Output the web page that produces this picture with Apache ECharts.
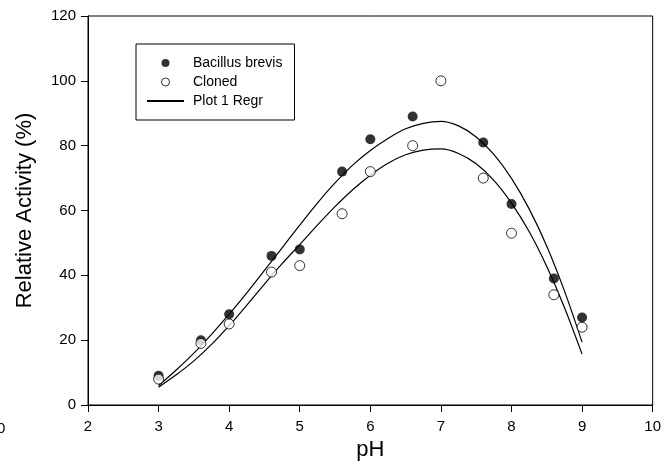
<!DOCTYPE html>
<html>
<head>
<meta charset="utf-8">
<script src="https://cdn.jsdelivr.net/npm/echarts@6/dist/echarts.min.js"></script>
<style>
  html, body { margin: 0; padding: 0; background: #fff; }
  #chart { width: 664px; height: 472px; }
</style>
</head>
<body>
<div id="chart"></div>
<script>
// measured points
const phPoints = [3, 3.6, 4, 4.6, 5, 5.6, 6, 6.6, 7.6, 8, 8.6, 9];
const brevisValues = [9, 20, 28, 46, 48, 72, 82, 89, 81, 62, 39, 27];
const clonedPh = [3, 3.6, 4, 4.6, 5, 5.6, 6, 6.6, 7, 7.6, 8, 8.6, 9];
const clonedValues = [8, 19, 25, 41, 43, 59, 72, 80, 100, 70, 53, 34, 24];

// regression curves, every 0.25 pH
const phFit = [3, 3.25, 3.5, 3.75, 4, 4.25, 4.5, 4.75, 5, 5.25, 5.5, 5.75, 6,
               6.25, 6.5, 6.75, 7, 7.25, 7.5, 7.75, 8, 8.25, 8.5, 8.75, 9];
const brevisFit = [6, 10.8, 16, 21.8, 28, 34.6, 41.5, 48.5, 55.5, 62.3, 68.5, 74, 78.5,
                   82.2, 85.2, 86.9, 87.5, 86.1, 82.7, 77.3, 69.9, 60.5, 49, 35.2, 19.4];
const clonedFit = [5.5, 9.3, 13.6, 18.7, 24.5, 30.8, 37.3, 43.6, 49.5, 55.5, 61.2, 66.4, 70.9,
                   74.6, 77.2, 78.6, 79, 77.6, 74.4, 69.3, 62.3, 53.5, 42.7, 30.1, 15.7];

const xTicks = { min: 2, max: 10, step: 1 };
const yTicks = { min: 0, max: 120, step: 20 };

const FONT = "'Liberation Sans', Arial, sans-serif";

function pairs(xs, ys) {
  return xs.map((x, i) => [x, ys[i]]);
}

let chart = echarts.init(document.getElementById("chart"));

let option = {
  backgroundColor: '#fff',
  animation: false,
  grid: {
    left: 88, right: 7, top: 16, bottom: 67,
    show: true,
    borderColor: '#000',
    borderWidth: 1
  },
  legend: {
    orient: 'vertical',
    left: 136,
    top: 44,
    padding: [12, 12, 12, 10],
    itemWidth: 37,
    itemHeight: 8,
    itemGap: 5,
    borderColor: '#000',
    borderWidth: 1,
    textStyle: { fontFamily: FONT, fontSize: 14, color: '#000', lineHeight: 14, padding: [0, 0, 0, 4] },
    data: [
      { name: 'Bacillus brevis', icon: 'circle', itemStyle: { color: '#000', borderWidth: 0 } },
      { name: 'Cloned', icon: 'circle', itemStyle: { color: '#fff', borderColor: '#000', borderWidth: 1 } },
      { name: 'Plot 1 Regr', itemStyle: { opacity: 0 } }
    ]
  },
  xAxis: {
    type: 'value',
    min: xTicks.min,
    max: xTicks.max,
    interval: xTicks.step,
    name: 'pH',
    nameLocation: 'middle',
    nameGap: 27,
    nameTextStyle: { fontFamily: FONT, fontSize: 22, color: '#000' },
    axisLine: { show: true, lineStyle: { color: '#000', width: 1 } },
    axisTick: { show: true, length: 7, lineStyle: { color: '#000' } },
    axisLabel: { fontFamily: FONT, fontSize: 15, color: '#000', margin: 14 },
    splitLine: { show: false }
  },
  yAxis: {
    type: 'value',
    min: yTicks.min,
    max: yTicks.max,
    interval: yTicks.step,
    name: 'Relative Activity (%)',
    nameLocation: 'middle',
    nameGap: 52,
    nameTextStyle: { fontFamily: FONT, fontSize: 22, color: '#000' },
    axisLine: { show: true, lineStyle: { color: '#000', width: 1 } },
    axisTick: { show: true, length: 7, lineStyle: { color: '#000' } },
    axisLabel: { fontFamily: FONT, fontSize: 15, color: '#000', margin: 12 },
    splitLine: { show: false }
  },
  graphic: [
    {
      type: 'text',
      left: -3,
      top: 421,
      style: { text: '0', font: '15px ' + FONT, fill: '#000' }
    }
  ],
  series: [
    {
      name: 'Plot 1 Regr',
      type: 'line',
      data: pairs(phFit, brevisFit),
      smooth: 0.3,
      symbol: 'none',
      itemStyle: { color: '#000' },
      lineStyle: { color: '#000', width: 1.2 },
      z: 1
    },
    {
      name: 'Plot 1 Regr',
      type: 'line',
      data: pairs(phFit, clonedFit),
      smooth: 0.3,
      symbol: 'none',
      itemStyle: { color: '#000' },
      lineStyle: { color: '#000', width: 1.2 },
      z: 1
    },
    {
      name: 'Bacillus brevis',
      type: 'scatter',
      data: pairs(phPoints, brevisValues),
      symbol: 'circle',
      symbolSize: 10,
      itemStyle: { color: '#000' },
      z: 2
    },
    {
      name: 'Cloned',
      type: 'scatter',
      data: pairs(clonedPh, clonedValues),
      symbol: 'circle',
      symbolSize: 10,
      itemStyle: { color: '#fff', borderColor: '#000', borderWidth: 1 },
      z: 3
    }
  ]
};

chart.setOption(option);
</script>
</body>
</html>
